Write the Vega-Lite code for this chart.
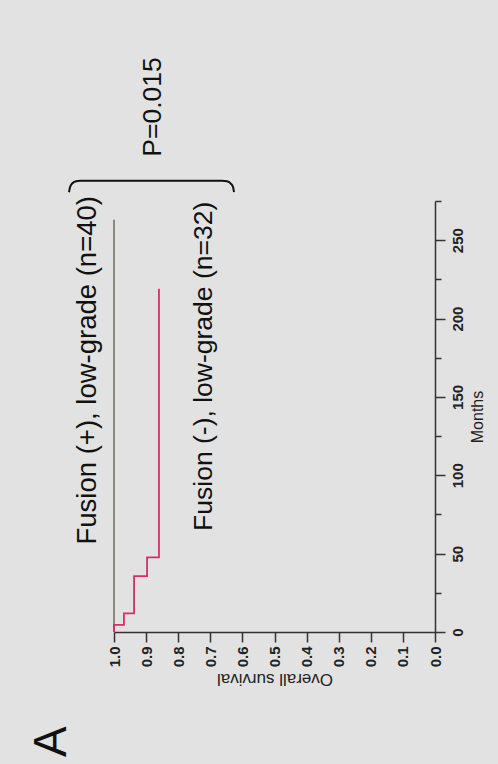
{
  "$schema": "https://vega.github.io/schema/vega-lite/v6.json",
  "autosize": {"type": "none"},
  "width": 321,
  "height": 431,
  "padding": {"left": 114, "top": 201, "right": 63, "bottom": 132},
  "background": "#e2e2e2",
  "config": {"view": {"stroke": null}, "font": "Liberation Sans", "axis": {"grid": false}},
  "datasets": {
    "curves": [
      {"group": "Fusion (+)", "month": 0, "survival": 1.0},
      {"group": "Fusion (+)", "month": 263, "survival": 1.0},
      {"group": "Fusion (-)", "month": 0, "survival": 1.0},
      {"group": "Fusion (-)", "month": 4.5, "survival": 0.969},
      {"group": "Fusion (-)", "month": 11.9, "survival": 0.9375},
      {"group": "Fusion (-)", "month": 35.7, "survival": 0.897},
      {"group": "Fusion (-)", "month": 47.6, "survival": 0.86},
      {"group": "Fusion (-)", "month": 219, "survival": 0.86}
    ],
    "bracket": [
      {"i": 1, "survival": 1.1402, "month": 280.6},
      {"i": 2, "survival": 1.137, "month": 283.8},
      {"i": 3, "survival": 1.131, "month": 286.0},
      {"i": 4, "survival": 1.118, "month": 287.6},
      {"i": 5, "survival": 1.106, "month": 287.9},
      {"i": 6, "survival": 0.6636, "month": 287.9},
      {"i": 7, "survival": 0.648, "month": 287.6},
      {"i": 8, "survival": 0.6355, "month": 286.0},
      {"i": 9, "survival": 0.629, "month": 283.8},
      {"i": 10, "survival": 0.6262, "month": 280.6}
    ],
    "notes_big": [
      {"text": "Fusion (+), low-grade (n=40)", "survival": 1.08, "month": 167}
    ],
    "notes": [
      {"text": "Fusion (-), low-grade  (n=32)", "survival": 0.719, "month": 169.5},
      {"text": "P=0.015", "survival": 0.88, "month": 335}
    ],
    "panel": [
      {"text": "A", "survival": 1.193, "month": -70}
    ]
  },
  "layer": [
    {
      "data": {"name": "curves"},
      "mark": {"type": "line", "interpolate": "step-before", "strokeWidth": 1.8},
      "encoding": {
        "x": {
          "field": "survival", "type": "quantitative",
          "scale": {"domain": [0, 1], "reverse": true, "nice": false},
          "axis": {
            "orient": "bottom",
            "values": [0, 0.1, 0.2, 0.3, 0.4, 0.5, 0.6, 0.7, 0.8, 0.9, 1.0],
            "tickCount": 30,
            "format": ".1f",
            "labelAngle": 270, "labelAlign": "right", "labelBaseline": "middle",
            "labelFontSize": 15, "labelFontWeight": "bold", "labelColor": "#222",
            "labelPadding": 4, "labelFlush": false, "labelOverlap": false,
            "tickSize": 10, "tickColor": "#333", "tickWidth": 1.5,
            "domainColor": "#333", "domainWidth": 1.5,
            "title": "Overall survival", "titleAngle": 180, "titleBaseline": "bottom",
            "titleFontSize": 17, "titleFontWeight": "normal", "titleColor": "#222", "titlePadding": 3
          }
        },
        "y": {
          "field": "month", "type": "quantitative",
          "scale": {"domain": [0, 275], "nice": false},
          "axis": {
            "orient": "right",
            "values": [0, 25, 50, 75, 100, 125, 150, 175, 200, 225, 250, 275],
            "tickCount": 30,
            "labelExpr": "datum.value % 50 === 0 ? datum.label : ''",
            "labelAngle": 270, "labelAlign": "center", "labelBaseline": "top",
            "labelFontSize": 15, "labelFontWeight": "bold", "labelColor": "#222",
            "labelPadding": 5, "labelFlush": false, "labelOverlap": false,
            "tickSize": {"condition": {"test": "datum.value % 50 === 0", "value": 10}, "value": 6},
            "tickColor": "#333", "tickWidth": 1.5,
            "domainColor": "#333", "domainWidth": 1.5,
            "title": "Months", "titleAngle": 270, "titleBaseline": "top",
            "titleFontSize": 16, "titleFontWeight": "normal", "titleColor": "#222", "titlePadding": 4
          }
        },
        "color": {
          "field": "group", "type": "nominal",
          "scale": {"domain": ["Fusion (+)", "Fusion (-)"], "range": ["#7f7f74", "#d2306a"]},
          "legend": null
        },
        "order": {"field": "month", "type": "quantitative"}
      }
    },
    {
      "data": {"name": "bracket"},
      "mark": {"type": "line", "interpolate": "monotone", "color": "#111", "strokeWidth": 2},
      "encoding": {
        "x": {"field": "survival", "type": "quantitative"},
        "y": {"field": "month", "type": "quantitative"},
        "order": {"field": "i", "type": "quantitative"}
      }
    },
    {
      "data": {"name": "notes_big"},
      "mark": {"type": "text", "angle": 270, "align": "center", "baseline": "middle", "fontSize": 27.5, "color": "#111"},
      "encoding": {
        "x": {"field": "survival", "type": "quantitative"},
        "y": {"field": "month", "type": "quantitative"},
        "text": {"field": "text", "type": "nominal"}
      }
    },
    {
      "data": {"name": "notes"},
      "mark": {"type": "text", "angle": 270, "align": "center", "baseline": "middle", "fontSize": 26.5, "color": "#111"},
      "encoding": {
        "x": {"field": "survival", "type": "quantitative"},
        "y": {"field": "month", "type": "quantitative"},
        "text": {"field": "text", "type": "nominal"}
      }
    },
    {
      "data": {"name": "panel"},
      "mark": {"type": "text", "angle": 270, "align": "center", "baseline": "middle", "fontSize": 46, "color": "#111"},
      "encoding": {
        "x": {"field": "survival", "type": "quantitative"},
        "y": {"field": "month", "type": "quantitative"},
        "text": {"field": "text", "type": "nominal"}
      }
    }
  ]
}
